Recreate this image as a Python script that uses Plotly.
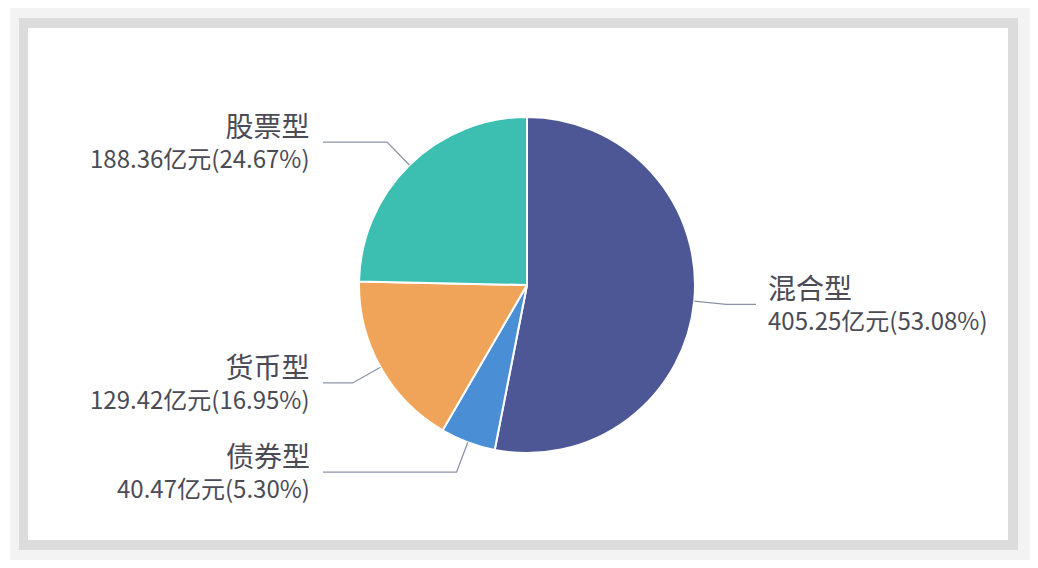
import math
import plotly.graph_objects as go

# fund type breakdown, amounts in 亿元
fund_types = ["混合型", "债券型", "货币型", "股票型"]
amounts = [405.25, 40.47, 129.42, 188.36]
colors = ["#4e5796", "#4a8fd5", "#f0a45a", "#3cbfb0"]

W, H = 1038, 568
OFF = 8                     # page body margin that shifts the figure
CX, CY, R = 527, 285, 168   # pie centre / radius in screen px
ELBOW = 32                  # radial part of the leader line
LEFT_END, RIGHT_END = 323, 756
LEFT_TXT, RIGHT_TXT = 312, 766
TXT_COLOR = "#4b4b55"
LINE_COLOR = "#8e92a8"


def px(x):
    return (x - OFF) / W


def py(y):
    return 1 - (y - OFF) / H


total = sum(amounts)

fig = go.Figure()
fig.add_trace(go.Pie(
    labels=fund_types,
    values=amounts,
    sort=False,
    direction="clockwise",
    rotation=0,
    textinfo="none",
    hoverinfo="label+value+percent",
    marker=dict(colors=colors, line=dict(color="white", width=2)),
    domain=dict(x=[px(CX - R), px(CX + R)], y=[py(CY + R), py(CY - R)]),
    showlegend=False,
))

shapes = [
    # card with soft grey frame
    dict(type="rect", xref="paper", yref="paper", x0=px(10), x1=px(1030), y0=py(560), y1=py(8),
         fillcolor="#f3f3f3", line=dict(width=0), layer="below"),
    dict(type="rect", xref="paper", yref="paper", x0=px(19), x1=px(1018), y0=py(550), y1=py(18),
         fillcolor="#dcdcdc", line=dict(width=0), layer="below"),
    dict(type="rect", xref="paper", yref="paper", x0=px(28), x1=px(1008), y0=py(540), y1=py(28),
         fillcolor="white", line=dict(width=0), layer="below"),
]
annotations = []

cum = 0
for name, val in zip(fund_types, amounts):
    mid = (cum + val / 2) / total * 2 * math.pi
    cum += val
    sx, sy = CX + R * math.sin(mid), CY - R * math.cos(mid)
    ex, ey = CX + (R + ELBOW) * math.sin(mid), CY - (R + ELBOW) * math.cos(mid)
    right = math.sin(mid) > 0
    hx = RIGHT_END if right else LEFT_END
    shapes.append(dict(
        type="path", xref="paper", yref="paper",
        path=f"M {px(sx)},{py(sy)} L {px(ex)},{py(ey)} L {px(hx)},{py(ey)}",
        line=dict(color=LINE_COLOR, width=1.3),
    ))
    tx = RIGHT_TXT if right else LEFT_TXT
    anchor = "left" if right else "right"
    pct = val / total * 100
    annotations.append(dict(
        x=px(tx), y=py(ey - 2), xref="paper", yref="paper",
        xanchor=anchor, yanchor="middle", align=anchor,
        text=f"<span style='font-size:28px'>{name}</span><br>{val:.2f}亿元({pct:.2f}%)",
        showarrow=False, font=dict(size=24, color=TXT_COLOR),
    ))

fig.update_layout(
    width=W, height=H,
    margin=dict(l=0, r=0, t=0, b=0),
    paper_bgcolor="white",
    plot_bgcolor="white",
    font=dict(family="Noto Sans CJK SC, Noto Sans, sans-serif"),
    shapes=shapes,
    annotations=annotations,
)

fig.write_html("out.html")
